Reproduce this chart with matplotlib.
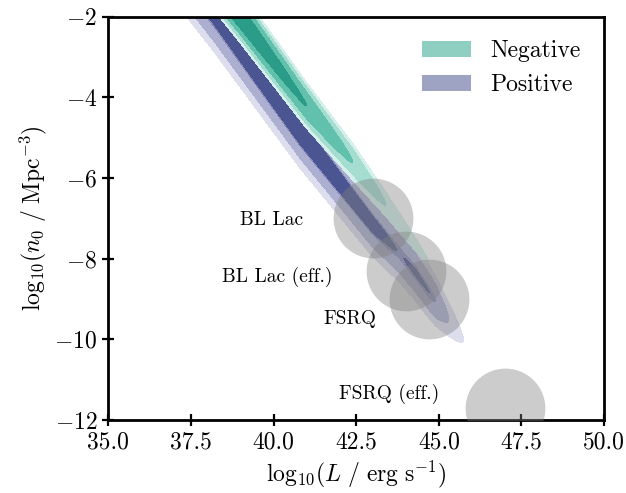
import numpy as np
import matplotlib.pyplot as plt
from matplotlib.patches import Patch

plt.rcParams.update({
    'font.family': 'serif',
    'font.serif': ['cmr10'],
    'mathtext.fontset': 'cm',
    'axes.formatter.use_mathtext': True,
})

# ridge of each posterior: knot luminosities, ridge n0, peak height, width
neg_knot_L = [37.5, 39.0, 41.0, 42.4, 43.4, 44.7, 46.0]
neg_ridge_n = [-0.45, -2.0, -4.2, -5.6, -6.65, -8.1, -9.5]
neg_peak = [5.0, 4.75, 4.0, 3.0, 2.0, 1.0, 0.0]
neg_width = [0.34, 0.34, 0.33, 0.32, 0.30, 0.28, 0.25]
neg_levels = [1.0, 2.0, 3.0, 4.0]
neg_colors = ['#d4f0ea', '#a6ddd1', '#62c1ac', '#2b9c88']

pos_knot_L = [36.0, 38.2, 40.8, 43.0, 43.8, 44.3, 44.73, 44.9, 45.3, 45.74, 47.0]
pos_ridge_n = [0.3, -2.0, -4.85, -7.15, -7.85, -8.35, -8.85, -9.05, -9.5, -10.0, -11.4]
pos_peak = [4.1, 4.15, 4.4, 4.2, 3.98, 4.05, 4.0, 3.89, 2.6, 1.0, 0.0]
pos_width = [0.49, 0.49, 0.49, 0.45, 0.42, 0.40, 0.38, 0.36, 0.33, 0.3, 0.3]
pos_levels = [1.0, 2.6, 3.89, 4.0]
pos_colors = ['#dcdded', '#acafd0', '#8a8dbb', '#4a5592']

# source classes
src_names = ['BL Lac', 'BL Lac (eff.)', 'FSRQ', 'FSRQ (eff.)']
src_L = [43.0, 44.0, 44.7, 47.0]
src_n = [-7.0, -8.3, -9.0, -11.7]
label_L = [39.95, 40.1, 42.3, 43.5]
label_n = [-7.05, -8.45, -9.5, -11.35]


def ridge_field(L, n, knots, ridge, peak, width):
    c = np.interp(L, knots, ridge)
    a = np.interp(L, knots, peak)
    w = np.interp(L, knots, width)
    return a - ((n - c) / w) ** 2


L, n = np.meshgrid(np.linspace(34, 50, 900), np.linspace(-13, 0, 900))
pos_z = ridge_field(L, n, pos_knot_L, pos_ridge_n, pos_peak, pos_width)
neg_z = ridge_field(L, n, neg_knot_L, neg_ridge_n, neg_peak, neg_width)

fig = plt.figure(figsize=(6.26, 4.93), dpi=100)
ax = fig.add_axes([0.173, 0.148, 0.792, 0.818])

ax.contourf(L, n, pos_z, levels=pos_levels + [100], colors=pos_colors, zorder=1)
ax.contourf(L, n, neg_z, levels=neg_levels + [100], colors=neg_colors, zorder=2)

ax.scatter(src_L, src_n, s=3300, color='gray', alpha=0.4, lw=0, zorder=3)
for name, x, y in zip(src_names, label_L, label_n):
    ax.text(x, y, name, ha='center', va='center', fontsize=14, zorder=4)

handles = [Patch(facecolor='#8fcfc2', label='Negative'),
           Patch(facecolor='#9ea3c4', label='Positive')]
ax.legend(handles=handles, loc='upper right', frameon=False, fontsize=17,
          handlelength=2.1, borderaxespad=0.6)

ax.set_xlim(35, 50)
ax.set_ylim(-12, -2)
ax.set_xticks(np.arange(35, 50.1, 2.5))
ax.set_yticks(np.arange(-12, -1, 2))
ax.xaxis.set_major_formatter(plt.FormatStrFormatter('%.1f'))
ax.tick_params(direction='inout', length=9, width=1.6, labelsize=17)
for s in ax.spines.values():
    s.set_linewidth(2)

ax.set_xlabel(r'$\mathrm{log}_{10}(L\ /\ \mathrm{erg\ s}^{-1})$', fontsize=17)
ax.set_ylabel(r'$\mathrm{log}_{10}(n_0\ /\ \mathrm{Mpc}^{-3})$', fontsize=17)

fig.savefig('out.png', dpi=100)
